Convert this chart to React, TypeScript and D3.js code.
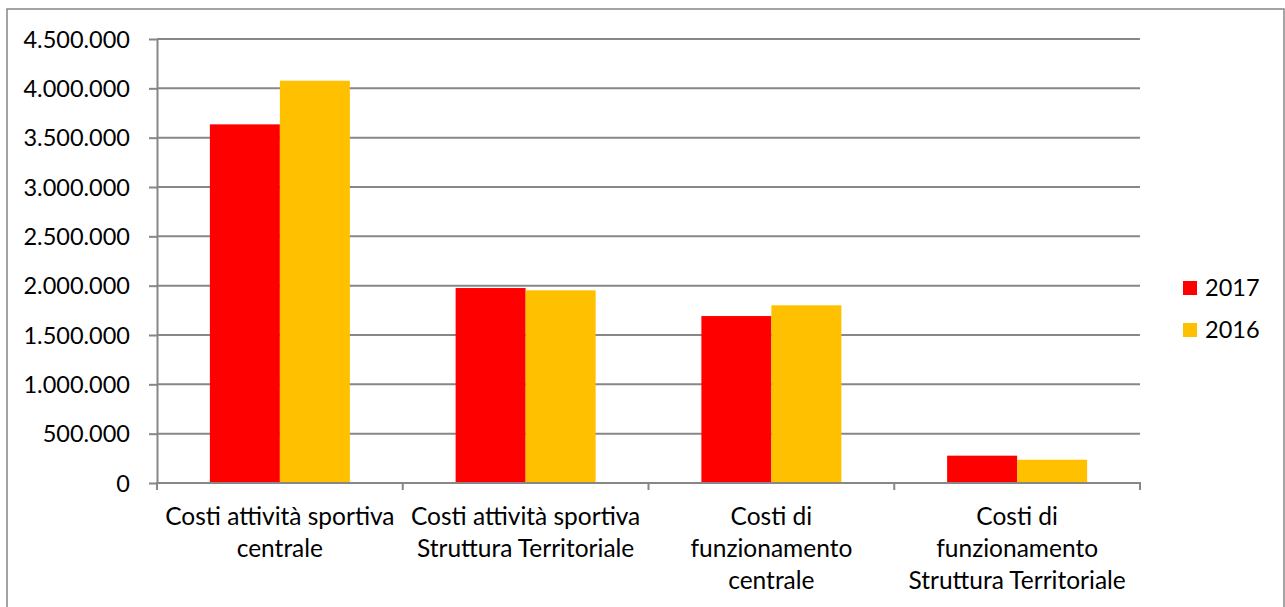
import React, { useEffect, useRef } from 'react';
import * as d3 from 'd3';

// costs per category, 2017 vs 2016
const categories = [
  ['Costi attività sportiva', 'centrale'],
  ['Costi attività sportiva', 'Struttura Territoriale'],
  ['Costi di', 'funzionamento', 'centrale'],
  ['Costi di', 'funzionamento', 'Struttura Territoriale'],
];
const seriesNames = ['2017', '2016'];
const values2017 = [3635000, 1976000, 1692000, 277000];
const values2016 = [4077000, 1953000, 1801000, 236000];
const yTicks = [0, 500000, 1000000, 1500000, 2000000, 2500000, 3000000, 3500000, 4000000, 4500000];

const colors = { '2017': '#FF0000', '2016': '#FFC000' };
const gridColor = '#878787';
const font = 'Lato, "Open Sans", sans-serif';

const width = 1285;
const height = 607;
const margin = { top: 39, right: 145, bottom: 124, left: 157 };

export default function App() {
  const ref = useRef<SVGSVGElement>(null);

  useEffect(() => {
    const svg = d3.select(ref.current);
    svg.selectAll('*').remove();

    const fmt = d3.formatLocale({ decimal: ',', thousands: '.', grouping: [3], currency: ['€', ''] }).format(',d');

    const x = d3.scaleBand<number>()
      .domain(categories.map((_, i) => i))
      .range([margin.left, width - margin.right])
      .paddingInner(0.4303)
      .paddingOuter(0.4303 / 2);

    const xInner = d3.scaleBand<string>()
      .domain(seriesNames)
      .range([0, x.bandwidth()]);

    const y = d3.scaleLinear()
      .domain([0, 4500000])
      .range([height - margin.bottom, margin.top]);

    // outer border
    svg.append('rect')
      .attr('x', 7).attr('y', 9)
      .attr('width', 1277).attr('height', 610)
      .attr('fill', 'white')
      .attr('stroke', gridColor)
      .attr('stroke-width', 1.5);

    // gridlines
    svg.append('g')
      .selectAll('line')
      .data(yTicks.filter(d => d > 0))
      .join('line')
        .attr('x1', margin.left)
        .attr('x2', width - margin.right)
        .attr('y1', d => y(d))
        .attr('y2', d => y(d))
        .attr('stroke', gridColor)
        .attr('stroke-width', 2);

    // bars
    const data = categories.map((_, i) => ({ i, '2017': values2017[i], '2016': values2016[i] }));
    svg.append('g')
      .selectAll('g')
      .data(data)
      .join('g')
        .attr('transform', d => `translate(${x(d.i)},0)`)
      .selectAll('rect')
      .data(d => seriesNames.map(s => ({ s, v: d[s] as number })))
      .join('rect')
        .attr('x', d => xInner(d.s)!)
        .attr('width', xInner.bandwidth())
        .attr('y', d => y(d.v))
        .attr('height', d => y(0) - y(d.v))
        .attr('fill', d => colors[d.s]);

    // y axis
    const yAxis = svg.append('g')
      .attr('transform', `translate(${margin.left},0)`)
      .call(d3.axisLeft(y).tickValues(yTicks).tickFormat(d => fmt(d as number)).tickSize(8).tickSizeOuter(0).tickPadding(19));
    yAxis.selectAll('line, path').attr('stroke', gridColor).attr('stroke-width', 2);
    yAxis.selectAll('text')
      .attr('dy', '0.34em')
      .attr('fill', '#000')
      .style('font-family', font)
      .style('font-size', '23.5px');

    // x axis with ticks between categories
    const xb = svg.append('g');
    xb.append('line')
      .attr('x1', margin.left).attr('x2', width - margin.right)
      .attr('y1', y(0)).attr('y2', y(0))
      .attr('stroke', gridColor).attr('stroke-width', 2);
    const step = x.step();
    xb.selectAll('line.tick')
      .data(d3.range(categories.length + 1))
      .join('line')
        .attr('class', 'tick')
        .attr('x1', i => margin.left + i * step)
        .attr('x2', i => margin.left + i * step)
        .attr('y1', y(0) - 1)
        .attr('y2', y(0) + 7)
        .attr('stroke', gridColor).attr('stroke-width', 2);

    xb.selectAll('text')
      .data(categories)
      .join('text')
        .attr('x', (_, i) => x(i)! + x.bandwidth() / 2)
        .attr('y', y(0) + 42)
        .attr('text-anchor', 'middle')
        .style('font-family', font)
        .style('font-size', '24.5px')
        .attr('fill', '#000')
      .selectAll('tspan')
      .data(d => d)
      .join('tspan')
        .attr('x', function () { return (this.parentNode as SVGTextElement).getAttribute('x'); })
        .attr('dy', (_, j) => (j === 0 ? 0 : 32))
        .text(d => d);

    // legend
    const legend = svg.append('g')
      .selectAll('g')
      .data(seriesNames)
      .join('g')
        .attr('transform', (_, i) => `translate(1183,${281 + i * 42})`);
    legend.append('rect')
      .attr('width', 14).attr('height', 14)
      .attr('fill', d => colors[d]);
    legend.append('text')
      .attr('x', 22).attr('y', 15)
      .style('font-family', font)
      .style('font-size', '23.5px')
      .attr('fill', '#000')
      .text(d => d);
  }, []);

  return (
    <svg ref={ref} width={width} height={height}
      style={{ position: 'absolute', left: 0, top: 0, background: 'white' }} />
  );
}
